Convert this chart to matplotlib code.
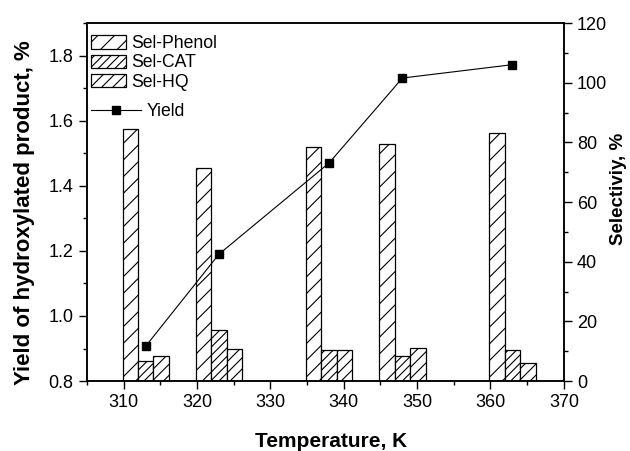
import numpy as np
import matplotlib.pyplot as plt
from matplotlib.ticker import MultipleLocator

plt.rcParams['font.family'] = ['Liberation Sans', 'DejaVu Sans']
plt.rcParams['hatch.linewidth'] = 0.8

# data
temps = [313, 323, 338, 348, 363]
yield_pct = [0.907, 1.19, 1.47, 1.731, 1.772]
sel_phenol = [84.4, 71.3, 78.3, 79.6, 83.0]
sel_cat = [6.7, 17.2, 10.4, 8.5, 10.5]
sel_hq = [8.3, 10.9, 10.4, 11.2, 6.2]

w = 2.1
fig = plt.figure(figsize=(6.3, 4.51), dpi=100)
ax = fig.add_axes([0.138, 0.155, 0.757, 0.794])
ax2 = ax.twinx()

t = np.array(temps)
b1 = ax2.bar(t - w, sel_phenol, w, facecolor='white', edgecolor='black', hatch='//', lw=0.9, label='Sel-Phenol')
b2 = ax2.bar(t, sel_cat, w, facecolor='white', edgecolor='black', hatch='////', lw=0.9, label='Sel-CAT')
b3 = ax2.bar(t + w, sel_hq, w, facecolor='white', edgecolor='black', hatch='///', lw=0.9, label='Sel-HQ')

ln, = ax.plot(temps, yield_pct, '-s', color='black', lw=0.8, ms=6, label='Yield')

# line above the bars
ax.set_zorder(ax2.get_zorder() + 1)
ax.patch.set_visible(False)

ax.set_xlim(305, 370)
ax.set_ylim(0.8, 1.9)
ax2.set_ylim(0, 120)
ax.xaxis.set_major_locator(MultipleLocator(10))
ax.xaxis.set_minor_locator(MultipleLocator(5))
ax.yaxis.set_major_locator(MultipleLocator(0.2))
ax.yaxis.set_minor_locator(MultipleLocator(0.1))
ax2.yaxis.set_major_locator(MultipleLocator(20))
ax2.yaxis.set_minor_locator(MultipleLocator(10))
ax.yaxis.set_major_formatter(plt.FormatStrFormatter('%.1f'))

for a in (ax, ax2):
    a.tick_params(which='major', direction='out', length=6, width=1, labelsize=13)
    a.tick_params(which='minor', direction='out', length=3, width=1)
    for s in a.spines.values():
        s.set_linewidth(1.1)

ax.set_xlabel('Temperature, K', fontsize=15, fontweight='bold')
ax.set_ylabel('Yield of hydroxylated product, %', fontsize=16, fontweight='bold')
ax2.set_ylabel('Selectiviy, %', fontsize=13.5, fontweight='bold')
ax.xaxis.set_label_coords(0.512, -0.142)
ax.yaxis.set_label_coords(-0.108, 0.47)
ax2.yaxis.set_label_coords(1.096, 0.536)

leg1 = ax.legend(handles=[b1, b2, b3], loc='upper left', bbox_to_anchor=(-0.018, 1.0),
                 frameon=False, fontsize=12.7, handlelength=2.0, handleheight=0.8,
                 handletextpad=0.3, labelspacing=0.12, borderpad=0.2)
ax.add_artist(leg1)
ax.legend(handles=[ln], loc='upper left', bbox_to_anchor=(-0.018, 0.81),
          frameon=False, fontsize=12.7, handlelength=2.85, handletextpad=0.35, borderpad=0.2)

fig.savefig('out.png', dpi=100)
